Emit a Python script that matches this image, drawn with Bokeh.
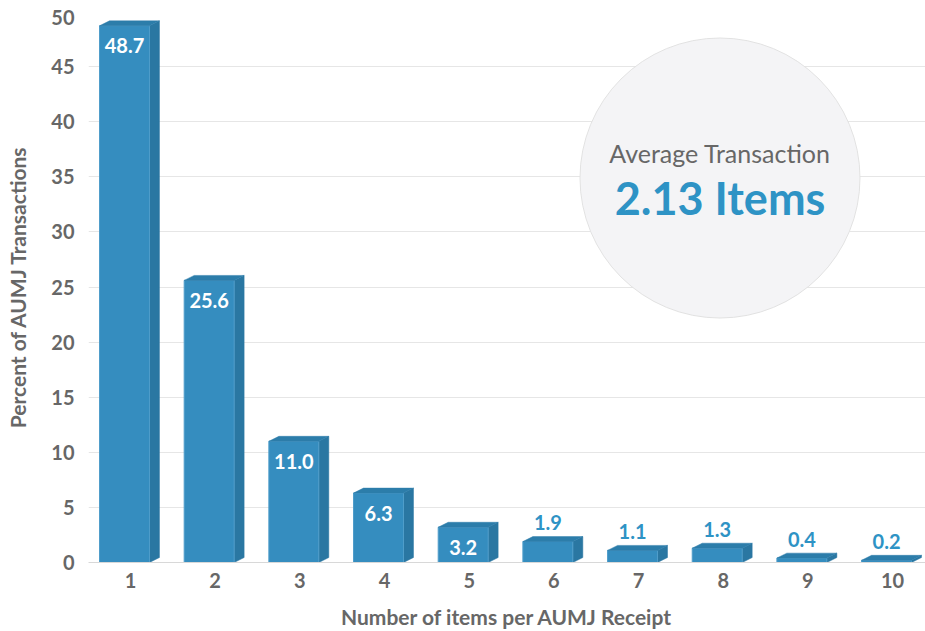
from bokeh.plotting import figure
from bokeh.embed import file_html
from bokeh.resources import INLINE
from bokeh.core.properties import value
from bokeh.models import ColumnDataSource, FixedTicker

# ---- data ----
CATEGORIES = [1, 2, 3, 4, 5, 6, 7, 8, 9, 10]
PERCENTS = [48.7, 25.6, 11.0, 6.3, 3.2, 1.9, 1.1, 1.3, 0.4, 0.2]
Y_TICKS = [0, 5, 10, 15, 20, 25, 30, 35, 40, 45, 50]
AVG_ITEMS = 2.13
INSIDE_MIN = 3.0  # values at or above this get their label inside the bar

# ---- style ----
FONT = "Lato"
FRONT = "#358dbf"
SIDE = "#2a77a2"
TOP = "#2c7daa"
BLUE_TEXT = "#2e93c5"
GRAY_TEXT = "#676767"

# geometry of the pseudo-3D boxes (in data units)
FL, FR = -0.366, 0.224   # front face left/right offset from category
DX, DY = 0.118, 0.45     # depth offset

X0, X1 = 0.504, 10.389
p = figure(width=925, height=631, output_backend="svg", toolbar_location=None,
           x_range=(X0, X1), y_range=(0, 50),
           min_border_left=88, min_border_right=0, min_border_top=11,
           min_border_bottom=69)
p.outline_line_color = None
p.background_fill_color = "white"

fl = [c + FL for c in CATEGORIES]
fr = [c + FR for c in CATEGORIES]
src = ColumnDataSource(dict(x=CATEGORIES, v=PERCENTS, l=fl, r=fr))

side_xs = [[r, r + DX, r + DX, r] for r in fr]
side_ys = [[0, DY, v + DY, v] for v in PERCENTS]
top_xs = [[l, l + DX, r + DX, r] for l, r in zip(fl, fr)]
top_ys = [[v, v + DY, v + DY, v] for v in PERCENTS]

p.patches(side_xs, side_ys, fill_color=SIDE, line_color=SIDE, line_width=0.5)
p.quad(left="l", right="r", bottom=0, top="v", source=src,
       fill_color=FRONT, line_color="#4f9dca", line_width=1)
p.patches(top_xs, top_ys, fill_color=TOP, line_color=TOP, line_width=0.5)

# value labels
lab_x = [(l + r) / 2 for l, r in zip(fl, fr)]
ins = [i for i, v in enumerate(PERCENTS) if v >= INSIDE_MIN]
outs = [i for i, v in enumerate(PERCENTS) if v < INSIDE_MIN]
p.text(x=[lab_x[i] for i in ins], y=[PERCENTS[i] for i in ins],
       text=[f"{PERCENTS[i]:.1f}" for i in ins], y_offset=20,
       text_align="center", text_baseline="middle",
       text_font=value(FONT), text_font_style="bold", text_font_size="20px",
       text_color="white")
p.text(x=[lab_x[i] for i in outs], y=[PERCENTS[i] for i in outs],
       text=[f"{PERCENTS[i]:.1f}" for i in outs], y_offset=-19,
       text_align="center", text_baseline="middle",
       text_font=value(FONT), text_font_style="bold", text_font_size="20px",
       text_color=BLUE_TEXT)

# average transaction bubble
CX, CY = 7.962, 34.89
p.circle(x=[CX], y=[CY], radius=140, radius_units="screen",
         fill_color="#f4f4f6", line_color="#e2e2e2", line_width=1)
p.text(x=[CX], y=[37.12], text=["Average Transaction"],
       text_align="center", text_baseline="middle",
       text_font=value(FONT), text_font_size="25px", text_color=GRAY_TEXT)
p.text(x=[CX], y=[33.12], text=[f"{AVG_ITEMS:.2f} Items"],
       text_align="center", text_baseline="middle",
       text_font=value(FONT), text_font_style="bold", text_font_size="45px",
       text_color=BLUE_TEXT)

# axes: the top tick label is nudged a little below its grid line
# (as in the original) so that it is not cut off at the top edge
top_tick = Y_TICKS[-1]
top_label_pos = top_tick - 0.55
p.xaxis.ticker = CATEGORIES
p.yaxis.ticker = FixedTicker(ticks=Y_TICKS[:-1] + [top_label_pos])
p.yaxis.major_label_overrides = {top_label_pos: str(top_tick)}
p.ygrid.ticker = FixedTicker(ticks=Y_TICKS)
p.xgrid.grid_line_color = None
p.ygrid.grid_line_color = "#e6e6e6"
p.ygrid.grid_line_width = 1

for ax in (p.xaxis[0], p.yaxis[0]):
    ax.major_tick_line_color = None
    ax.minor_tick_line_color = None
    ax.major_tick_out = 0
    ax.major_tick_in = 0
    ax.minor_tick_out = 0
    ax.major_label_text_font = FONT
    ax.major_label_text_font_style = "bold"
    ax.major_label_text_font_size = "20px"
    ax.major_label_text_color = GRAY_TEXT
    ax.axis_label_text_font = FONT
    ax.axis_label_text_font_style = "bold"
    ax.axis_label_text_font_size = "21px"
    ax.axis_label_text_color = GRAY_TEXT

p.xaxis.axis_label = "Number of items per AUMJ Receipt"
p.yaxis.axis_label = "Percent of AUMJ Transactions"
p.xaxis.axis_line_color = "#d8d8d8"
p.yaxis.axis_line_color = None
p.xaxis.major_label_standoff = 10
p.xaxis.axis_label_standoff = 13
p.yaxis.major_label_standoff = 14
p.yaxis.axis_label_standoff = 18

open("out.html", "w").write(file_html(p, INLINE))
